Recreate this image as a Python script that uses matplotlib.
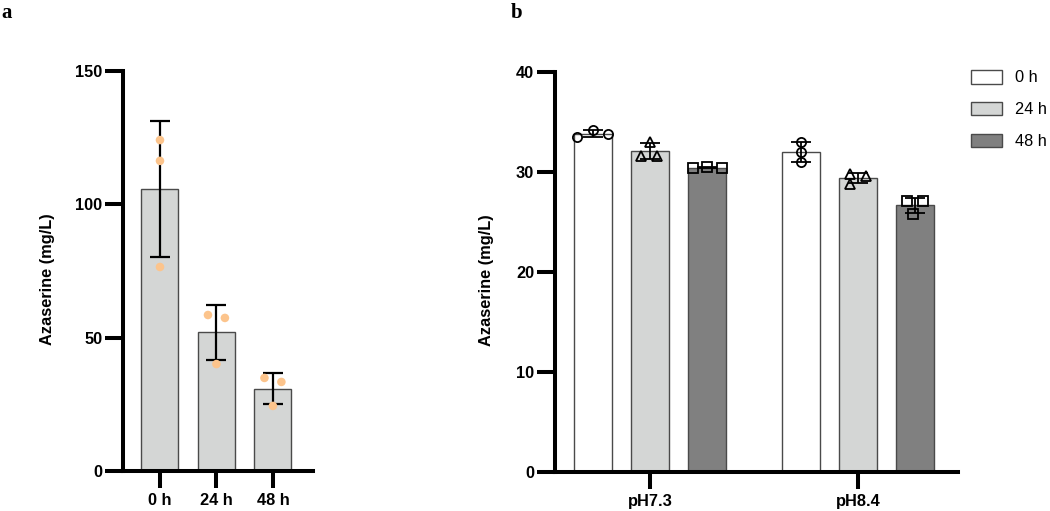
import numpy as np
import matplotlib
matplotlib.use("Agg")
import matplotlib.pyplot as plt
from matplotlib.patches import Patch

plt.rcParams['font.family'] = ['Liberation Sans', 'DejaVu Sans']

# ---------------- data ----------------
# Panel a
a_categories = ["0 h", "24 h", "48 h"]
a_points = [
    [124.1, 116.3, 76.5],
    [58.5, 57.4, 40.1],
    [34.9, 33.4, 24.4],
]
# Panel b
b_groups = ["pH7.3", "pH8.4"]
b_series = ["0 h", "24 h", "48 h"]
b_points = {
    "0 h":  [[33.5, 34.2, 33.8], [33.0, 32.0, 31.0]],
    "24 h": [[31.6, 33.0, 31.6], [29.8, 29.6, 28.8]],
    "48 h": [[30.4, 30.5, 30.4], [27.1, 27.1, 25.8]],
}
a_yticks = [0, 50, 100, 150]
b_yticks = [0, 10, 20, 30, 40]

# ---------------- style ----------------
LIGHT = "#d4d6d5"
DARK = "#808080"
EDGE = "#4a4a4a"
ORANGE = "#fcc48c"
b_colors = {"0 h": "white", "24 h": LIGHT, "48 h": DARK}
b_markers = {"0 h": "o", "24 h": "^", "48 h": "s"}
a_jitter = [[0, 0, 0], [-0.15, 0.15, 0.0], [-0.15, 0.15, 0.0]]
b_jitter = {
    "0 h":  [[-0.075, 0.0, 0.075], [0, 0, 0]],
    "24 h": [[-0.043, 0.0, 0.035], [-0.04, 0.04, -0.04]],
    "48 h": [[-0.07, 0.0, 0.07], [-0.04, 0.04, -0.01]],
}

SPINE_W = 2.9
FS = 11.8

fig = plt.figure(figsize=(10.5, 5.11), dpi=100)

def style_axis(ax):
    for s in ["top", "right"]:
        ax.spines[s].set_visible(False)
    for s in ["left", "bottom"]:
        ax.spines[s].set_linewidth(SPINE_W)
        ax.spines[s].set_capstyle("projecting")
    ax.tick_params(axis="y", direction="out", length=13, width=SPINE_W, pad=2,
                   labelsize=FS)
    ax.tick_params(axis="x", direction="out", length=12.5, width=SPINE_W, pad=3,
                   labelsize=FS)
    for lab in ax.get_xticklabels() + ax.get_yticklabels():
        lab.set_fontweight("bold")

# ---------------- panel a ----------------
axa = fig.add_axes([123/1050, 40/511, 190/1050, 400/511])
xa = np.arange(len(a_categories))
a_mean = [np.mean(p) for p in a_points]
a_sd = [np.std(p, ddof=1) for p in a_points]
axa.bar(xa, a_mean, width=0.655, color=LIGHT, edgecolor=EDGE, linewidth=1.0, zorder=2)
axa.errorbar(xa, a_mean, yerr=a_sd, fmt="none", ecolor="black", elinewidth=1.6,
             capsize=7.5, capthick=1.6, zorder=3)
for i, pts in enumerate(a_points):
    axa.scatter(xa[i] + np.array(a_jitter[i]), pts, s=38, color=ORANGE,
                edgecolor="none", zorder=4)
axa.set_xlim(-0.655, 2.71)
axa.set_ylim(0, 150)
axa.set_yticks(a_yticks)
axa.set_xticks(xa)
axa.set_xticklabels(a_categories)
axa.set_ylabel("Azaserine (mg/L)", fontsize=FS, fontweight="bold")
axa.yaxis.set_label_coords(-0.358, 0.48)
style_axis(axa)

# ---------------- panel b ----------------
axb = fig.add_axes([555/1050, 39/511, 403/1050, 400/511])
xb = np.arange(len(b_groups))
offsets = [-0.275, 0.0, 0.275]
for k, ser in enumerate(b_series):
    pts = b_points[ser]
    means = [np.mean(p) for p in pts]
    sds = [np.std(p, ddof=1) for p in pts]
    xs = xb + offsets[k]
    axb.bar(xs, means, width=0.183, color=b_colors[ser], edgecolor=EDGE,
            linewidth=1.0, zorder=2, label=ser)
    for g in range(len(b_groups)):
        axb.plot(xs[g] + np.array(b_jitter[ser][g]), pts[g], linestyle="none",
                 marker=b_markers[ser], markersize=6.6, markerfacecolor="none",
                 markeredgecolor="black", markeredgewidth=1.3, zorder=3)
    axb.errorbar(xs, means, yerr=sds, fmt="none", ecolor="black", elinewidth=1.3,
                 capsize=7, capthick=1.3, zorder=4)
axb.set_xlim(-0.457, 1.481)
axb.set_ylim(0, 40)
axb.set_yticks(b_yticks)
axb.set_xticks(xb)
axb.set_xticklabels(b_groups)
axb.set_ylabel("Azaserine (mg/L)", fontsize=FS, fontweight="bold")
axb.yaxis.set_label_coords(-0.151, 0.48)
style_axis(axb)

handles = [Patch(facecolor=b_colors[s], edgecolor=EDGE, linewidth=1.0, label=s)
           for s in b_series]
fig.legend(handles=handles, loc="upper left", bbox_to_anchor=(971/1050, 1 - 70/511),
           frameon=False, fontsize=FS, handlelength=1.9, handleheight=0.9,
           handletextpad=0.8, labelspacing=1.0, borderpad=0, borderaxespad=0)

fig.text(1/1050, 1 - 3/511, "a", family="Liberation Serif", fontweight="bold",
         fontsize=15, va="top", ha="left")
fig.text(511/1050, 1 - 3/511, "b", family="Liberation Serif", fontweight="bold",
         fontsize=15, va="top", ha="left")

fig.savefig("out.png", dpi=100)
